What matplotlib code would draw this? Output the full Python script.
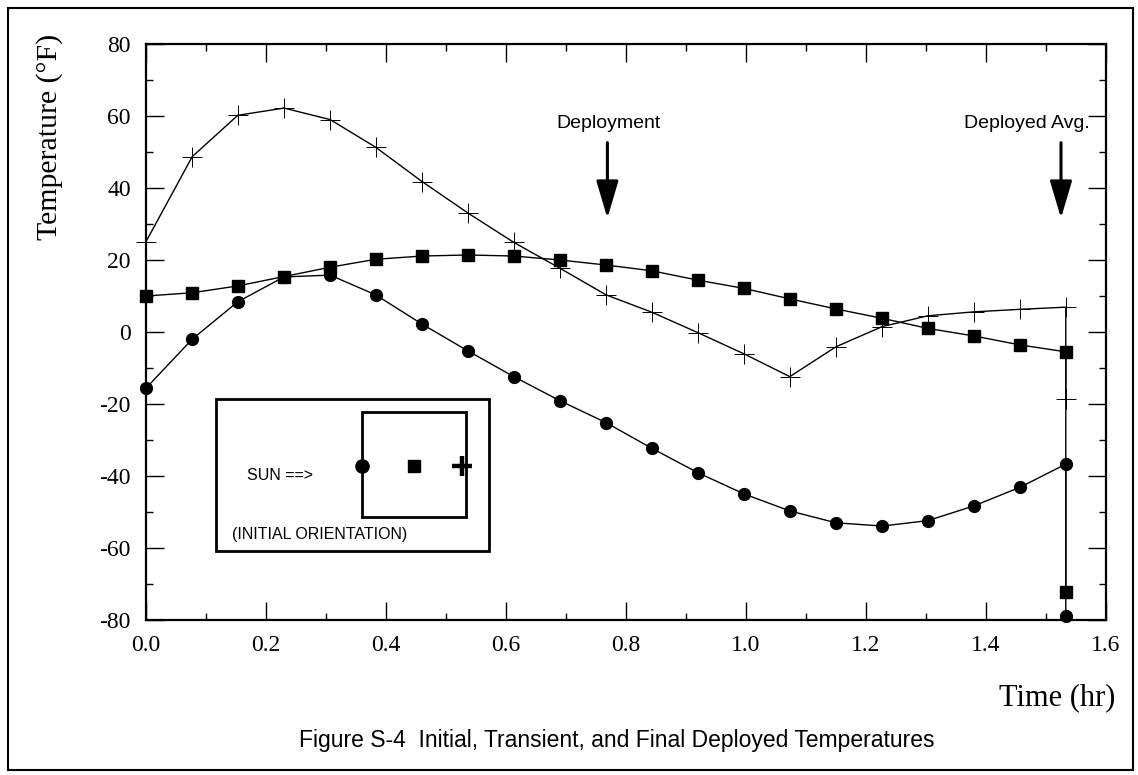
import matplotlib
matplotlib.use("Agg")
import matplotlib.pyplot as plt
from matplotlib.patches import Rectangle
from matplotlib.ticker import MultipleLocator

# time steps (hr)
time_hr = [0.0, 0.077, 0.153, 0.23, 0.307, 0.383, 0.46, 0.537, 0.613, 0.69, 0.767,
           0.843, 0.92, 0.997, 1.073, 1.15, 1.227, 1.303, 1.38, 1.457, 1.533]
t_end = 1.533

# temperatures (F)
plus_temp = [25.1, 48.7, 60.2, 62.2, 59.0, 51.3, 41.8, 33.0, 24.9, 17.7, 10.3,
             5.5, -0.2, -6.1, -12.4, -4.1, 1.5, 4.5, 5.6, 6.3, 6.9]
square_temp = [10.0, 10.9, 12.8, 15.4, 18.0, 20.2, 21.1, 21.4, 21.1, 20.0, 18.6,
               17.0, 14.4, 12.1, 9.2, 6.4, 3.8, 1.0, -1.1, -3.6, -5.5]
circle_temp = [-15.6, -2.0, 8.4, 15.3, 15.8, 10.3, 2.2, -5.3, -12.4, -19.1, -25.2,
               -32.3, -39.1, -45.0, -49.7, -53.0, -53.9, -52.4, -48.3, -43.1, -36.7]

# deployed average values
plus_final = -18.7
square_final = -72.3
circle_final = -79.0

# arrow annotations: x position, label, label centre x
arrow_x = [0.769, 1.525]
arrow_text = ["Deployment", "Deployed Avg."]
arrow_text_x = [0.770, 1.468]

serif = ["Liberation Serif", "DejaVu Serif"]
sans = ["Liberation Sans", "DejaVu Sans"]

fig = plt.figure(figsize=(11.38, 7.75), dpi=100)
ax = fig.add_axes([146/1138, 1-620/775, 960/1138, 576/775])

lw = 1.0
ax.plot(time_hr + [t_end], plus_temp + [plus_final], color="black", lw=lw,
        marker="+", markersize=15, markeredgewidth=0.7, clip_on=False)
ax.plot(time_hr + [t_end], square_temp + [square_final], color="black", lw=lw,
        marker="s", markersize=8, clip_on=False)
ax.plot(time_hr + [t_end], circle_temp + [circle_final], color="black", lw=lw,
        marker="o", markersize=8.5, clip_on=False)

ax.set_xlim(0, 1.6)
ax.set_ylim(-80, 80)
ax.xaxis.set_major_locator(MultipleLocator(0.2))
ax.xaxis.set_minor_locator(MultipleLocator(0.1))
ax.yaxis.set_major_locator(MultipleLocator(20))
ax.yaxis.set_minor_locator(MultipleLocator(10))
ax.tick_params(which="both", direction="in", top=True, right=True, width=1.0)
ax.tick_params(which="major", length=13, pad=11)
ax.tick_params(which="minor", length=5)
ax.xaxis.set_major_formatter(plt.FuncFormatter(lambda v, p: "%.1f" % v))
ax.yaxis.set_major_formatter(plt.FuncFormatter(lambda v, p: "%d" % v))
for lab in ax.get_xticklabels() + ax.get_yticklabels():
    lab.set_family(serif)
    lab.set_fontsize(17)
for s in ax.spines.values():
    s.set_linewidth(1.6)

ax.set_ylabel("Temperature (°F)", family=serif, fontsize=21.5)
ax.yaxis.set_label_coords((63 - 146) / 960, (620 - 137) / 576)

# arrows
for xa, txt, xt in zip(arrow_x, arrow_text, arrow_text_x):
    ax.annotate("", xy=(xa, 31.6), xytext=(xa, 52.6),
                arrowprops=dict(arrowstyle="-|>,head_length=2.3,head_width=0.68",
                                color="black", lw=2.2, shrinkA=0, shrinkB=0))
    ax.text(xt, 58.0, txt, family=sans, fontsize=14, ha="center", va="center")

# inset orientation box
def axx(px):
    return (px - 146) / 960

def axy(py):
    return (620 - py) / 576

ax.add_patch(Rectangle((axx(216), axy(550.7)), axx(489) - axx(216), axy(399.3) - axy(550.7),
                       transform=ax.transAxes, fill=False, lw=2.0, color="black"))
ax.add_patch(Rectangle((axx(361.7), axy(516.7)), axx(466) - axx(361.7), axy(412) - axy(516.7),
                       transform=ax.transAxes, fill=False, lw=2.0, color="black"))
my = axy(465.7)
ax.plot([axx(361.7)], [my], "o", color="black", markersize=9.5, transform=ax.transAxes)
ax.plot([axx(414)], [my], "s", color="black", markersize=9, transform=ax.transAxes)
ax.plot([axx(462)], [my], "+", color="black", markersize=15, markeredgewidth=3.2,
        transform=ax.transAxes)
ax.text(axx(280), axy(475), "SUN ==>", transform=ax.transAxes, family=sans,
        fontsize=11.5, ha="center", va="center")
ax.text(axx(232), axy(535), "(INITIAL ORIENTATION)", transform=ax.transAxes,
        family=sans, fontsize=11.5, ha="left", va="center")

fig.text(1115/1138, 1-698/775, "Time (hr)", family=serif, fontsize=22,
         ha="right", va="center")
fig.text(617/1138, 1-740/775, "Figure S-4  Initial, Transient, and Final Deployed Temperatures",
         family=sans, fontsize=16.5, ha="center", va="center")

fig.patches.append(Rectangle((8/1138, 5/775), 1125/1138, 762/775, transform=fig.transFigure,
                             fill=False, lw=1.5, color="black"))

fig.savefig("out.png", dpi=100)
